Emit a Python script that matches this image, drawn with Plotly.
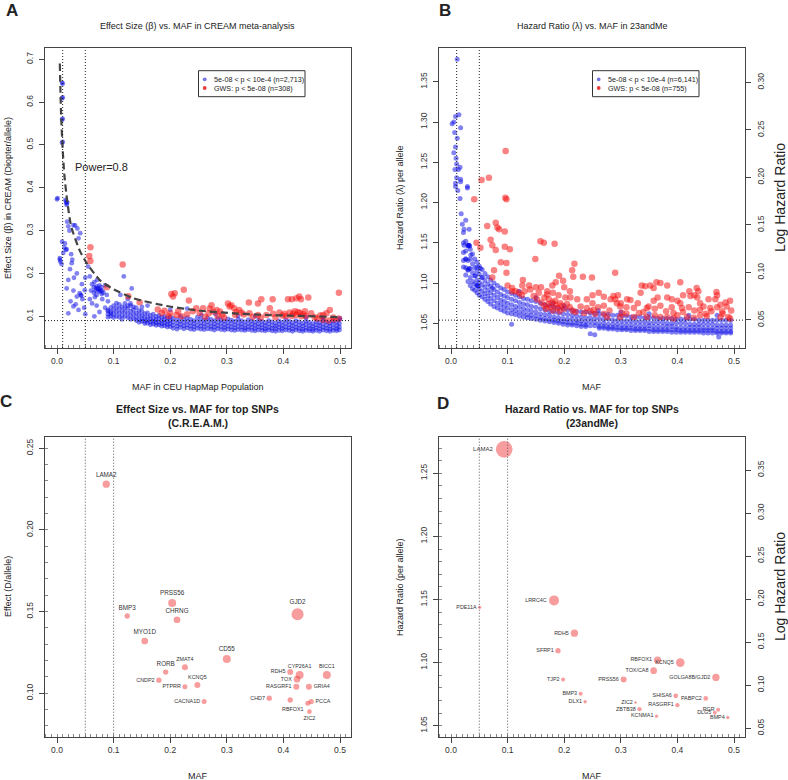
import plotly.graph_objects as go

W, H = 788, 780
FONT = "Liberation Sans, Arial, Helvetica, sans-serif"

# ---------------- DATA ----------------
# Panel A: CREAM, sub-GWS (blue) SNPs, scattered part
a_blue_pts = [
 (0.009,0.645),(0.010,0.643),(0.009,0.609),(0.010,0.611),(0.009,0.559),(0.010,0.561),(0.009,0.505),(0.010,0.507),
 (0.000,0.373),(0.001,0.376),(0.016,0.368),(0.017,0.364),(0.017,0.360),(0.015,0.372),(0.018,0.366),
 (0.018,0.321),(0.020,0.310),(0.029,0.313),(0.032,0.312),(0.036,0.305),(0.022,0.300),
 (0.009,0.274),(0.014,0.270),(0.016,0.255),(0.017,0.257),(0.013,0.260),(0.011,0.248),
 (0.005,0.236),(0.006,0.228),(0.005,0.232),(0.008,0.222),
 (0.026,0.224),(0.023,0.210),(0.038,0.282),(0.041,0.294),(0.025,0.245),(0.030,0.190),(0.035,0.200),(0.027,0.232),
 (0.020,0.185),(0.017,0.165),(0.029,0.160),(0.040,0.154),(0.042,0.150),(0.035,0.146),(0.049,0.161),(0.045,0.140),(0.043,0.148),
 (0.029,0.123),(0.020,0.107),(0.024,0.135),(0.048,0.120),(0.050,0.105),(0.044,0.175),(0.050,0.190),(0.038,0.115),(0.033,0.128),
 (0.055,0.216),(0.058,0.193),(0.062,0.175),(0.065,0.168),(0.068,0.160),(0.070,0.170),(0.072,0.165),(0.074,0.158),(0.076,0.162),
 (0.078,0.168),(0.080,0.160),(0.082,0.155),(0.070,0.150),(0.065,0.155),(0.060,0.160),(0.085,0.172),(0.066,0.180),(0.071,0.185),
 (0.070,0.125),(0.075,0.110),(0.062,0.130),(0.066,0.100),(0.080,0.140),(0.090,0.135),(0.085,0.120),(0.073,0.163),(0.077,0.158),
 (0.069,0.166),(0.079,0.152),(0.075,0.172),(0.067,0.145),(0.058,0.140),(0.088,0.150),
 (0.118,0.193),(0.132,0.165),(0.112,0.150),(0.125,0.140),(0.130,0.130),(0.160,0.125),(0.200,0.115),(0.230,0.118),
 (0.280,0.105),(0.350,0.100),(0.440,0.098),(0.500,0.095),(0.150,0.122),(0.255,0.103),(0.320,0.101),(0.470,0.097),
]
# Panel A: dense band of sub-GWS SNPs (MAF, effects at that MAF)
a_band_x = [0.090,0.095,0.100,0.105,0.110,0.115,0.120,0.125,0.130,0.135,0.140,0.145,0.150,0.155,0.160,0.165,
            0.170,0.175,0.180,0.185,0.190,0.195,0.200,0.205,0.212,0.218,0.224,0.230,0.236,0.242,0.248,0.254,
            0.260,0.266,0.272,0.278,0.284,0.290,0.296,0.302,0.308,0.314,0.320,0.326,0.332,0.338,0.344,0.350,
            0.356,0.362,0.368,0.374,0.380,0.386,0.392,0.398,0.404,0.410,0.416,0.422,0.428,0.434,0.440,0.446,
            0.452,0.458,0.464,0.470,0.476,0.482,0.488,0.494,0.499]
a_band_y = [
 [0.115,0.105,0.112,0.098],[0.120,0.110,0.100,0.106],[0.125,0.115,0.105,0.097],[0.120,0.110,0.100,0.131],
 [0.128,0.118,0.108,0.098],[0.122,0.112,0.102,0.093],[0.130,0.120,0.110,0.100],[0.118,0.107,0.097,0.125],
 [0.125,0.112,0.102,0.093],[0.115,0.105,0.095,0.122],[0.120,0.108,0.098,0.090],[0.113,0.103,0.093,0.086],
 [0.112,0.102,0.094,0.088],[0.106,0.097,0.089,0.083],[0.108,0.098,0.090,0.084],[0.102,0.094,0.087,0.080],
 [0.105,0.095,0.088,0.082],[0.100,0.092,0.085,0.079],[0.102,0.094,0.086,0.080],[0.098,0.090,0.083,0.077],
 [0.100,0.092,0.085,0.078],[0.096,0.088,0.081,0.075],[0.098,0.090,0.083,0.076],[0.095,0.087,0.079,0.072],
 [0.092,0.084,0.077,0.070],[0.100,0.089,0.081,0.074],[0.094,0.086,0.078,0.071],[0.097,0.088,0.080,0.073],
 [0.093,0.085,0.077,0.070],[0.090,0.083,0.076,0.069],[0.098,0.088,0.079,0.072],[0.094,0.085,0.077,0.070],
 [0.091,0.083,0.076,0.069],[0.096,0.087,0.079,0.071],[0.093,0.084,0.076,0.070],[0.090,0.082,0.075,0.068],
 [0.095,0.086,0.078,0.071],[0.092,0.084,0.076,0.069],[0.089,0.081,0.074,0.068],[0.094,0.085,0.077,0.070],
 [0.091,0.083,0.075,0.068],[0.088,0.080,0.073,0.067],[0.093,0.084,0.076,0.069],[0.090,0.082,0.075,0.068],
 [0.087,0.079,0.072,0.067],[0.092,0.083,0.075,0.069],[0.089,0.081,0.074,0.067],[0.086,0.079,0.072,0.066],
 [0.091,0.082,0.075,0.068],[0.088,0.080,0.073,0.067],[0.085,0.078,0.071,0.066],[0.090,0.082,0.074,0.068],
 [0.087,0.079,0.072,0.066],[0.084,0.077,0.071,0.065],[0.089,0.081,0.074,0.067],[0.086,0.078,0.072,0.066],
 [0.092,0.083,0.075,0.068],[0.088,0.080,0.073,0.067],[0.085,0.078,0.071,0.065],[0.090,0.082,0.074,0.068],
 [0.087,0.079,0.072,0.066],[0.084,0.077,0.070,0.065],[0.089,0.081,0.073,0.067],[0.086,0.078,0.071,0.066],
 [0.083,0.076,0.070,0.065],[0.088,0.080,0.073,0.067],[0.085,0.078,0.071,0.065],[0.091,0.082,0.074,0.068],
 [0.087,0.079,0.072,0.066],[0.084,0.077,0.070,0.065],[0.089,0.081,0.073,0.067],[0.086,0.078,0.071,0.066],
 [0.092,0.083,0.075,0.068],
]
# Panel A: genome-wide significant SNPs (red)
a_red_pts = [
 (0.059,0.261),(0.057,0.241),(0.059,0.229),(0.116,0.221),(0.088,0.168),(0.126,0.147),(0.146,0.133),
 (0.202,0.152),(0.208,0.154),(0.205,0.146),(0.224,0.162),(0.233,0.137),
 (0.190,0.113),(0.200,0.107),(0.211,0.103),(0.246,0.119),(0.258,0.119),(0.252,0.108),
 (0.273,0.126),(0.270,0.118),(0.276,0.111),(0.282,0.115),(0.288,0.111),(0.284,0.100),(0.292,0.104),
 (0.302,0.130),(0.308,0.126),(0.305,0.123),(0.313,0.119),(0.322,0.115),(0.326,0.109),(0.316,0.110),
 (0.339,0.132),(0.355,0.130),(0.361,0.140),(0.381,0.140),(0.376,0.119),(0.346,0.099),(0.355,0.103),
 (0.408,0.140),(0.415,0.140),(0.423,0.142),(0.428,0.146),(0.431,0.140),(0.444,0.144),
 (0.370,0.103),(0.382,0.106),(0.393,0.109),(0.402,0.106),(0.411,0.109),(0.417,0.106),(0.423,0.103),
 (0.429,0.108),(0.435,0.105),(0.440,0.101),(0.449,0.107),(0.405,0.100),(0.415,0.101),(0.420,0.112),
 (0.426,0.110),(0.432,0.100),(0.438,0.112),(0.398,0.102),(0.386,0.098),(0.360,0.097),
 (0.470,0.103),(0.476,0.107),(0.482,0.115),(0.488,0.097),(0.498,0.155),(0.498,0.095),(0.490,0.093),
 (0.460,0.095),(0.465,0.102),(0.455,0.098),(0.470,0.092),(0.480,0.090),
 (0.330,0.104),(0.340,0.107),(0.315,0.103),(0.295,0.097),(0.268,0.107),(0.262,0.099),(0.240,0.112),
 (0.230,0.105),(0.220,0.100),(0.214,0.112),(0.197,0.101),(0.185,0.108),(0.178,0.116),
]
# Panel A: power = 0.8 curve
power_x = [0.005, 0.007, 0.010, 0.013, 0.018, 0.025, 0.040, 0.053, 0.076, 0.100, 0.135, 0.194, 0.253, 0.312, 0.371, 0.429, 0.500]
power_y = [0.690, 0.580, 0.490, 0.430, 0.370, 0.310, 0.254, 0.223, 0.184, 0.163, 0.142, 0.124, 0.113, 0.107, 0.103, 0.101, 0.098]

# Panel B: 23andMe, sub-GWS (blue) scattered part
b_blue_pts = [
 (0.011,1.378),(0.005,1.300),(0.002,1.298),(0.008,1.307),(0.014,1.309),(0.017,1.293),(0.0065,1.287),(0.011,1.280),
 (0.008,1.269),(0.005,1.262),(0.009,1.255),(0.010,1.248),(0.007,1.241),(0.013,1.241),(0.016,1.244),(0.010,1.231),
 (0.017,1.226),(0.008,1.220),(0.029,1.218),(0.008,1.224),(0.017,1.229),(0.012,1.215),(0.016,1.205),(0.029,1.220),
 (0.018,1.186),(0.020,1.173),(0.023,1.167),(0.032,1.167),(0.026,1.178),(0.023,1.147),(0.032,1.147),(0.026,1.130),
 (0.035,1.135),(0.046,1.120),(0.052,1.118),(0.043,1.109),(0.055,1.107),(0.073,1.094),(0.107,1.049),(0.473,1.033),
 (0.120,1.090),(0.150,1.082),(0.200,1.072),(0.300,1.064),(0.350,1.062),(0.420,1.060),(0.470,1.060),(0.180,1.075),
 (0.260,1.066),(0.031,1.147),(0.033,1.146),(0.032,1.118),(0.030,1.117),(0.046,1.097),(0.048,1.096),
]
b_band_x = [0.022,0.026,0.030,0.034,0.038,0.042,0.046,0.050,0.055,0.060,0.065,0.070,0.076,0.082,0.088,0.094,
            0.100,0.107,0.114,0.121,0.128,0.135,0.142,0.150,0.158,0.166,0.174,0.182,0.190,0.198,0.206,0.214,
            0.222,0.230,0.238,0.246,0.254,0.262,0.270,0.278,0.286,0.294,0.302,0.310,0.318,0.326,0.334,0.342,
            0.350,0.358,0.366,0.374,0.382,0.390,0.398,0.406,0.414,0.422,0.430,0.438,0.446,0.454,0.462,0.470,
            0.478,0.486,0.494]
b_band_y = [
 [1.163,1.150,1.138,1.128,1.120],[1.152,1.140,1.130,1.119,1.110],[1.147,1.146,1.128,1.116,1.102],
 [1.142,1.130,1.118,1.107,1.097],[1.136,1.124,1.113,1.102,1.093],[1.130,1.119,1.109,1.099,1.091],
 [1.126,1.115,1.104,1.097,1.088],[1.121,1.111,1.101,1.093,1.085],[1.117,1.107,1.098,1.090,1.083],
 [1.112,1.103,1.095,1.087,1.080],[1.108,1.099,1.091,1.084,1.077],[1.104,1.096,1.088,1.081,1.074],
 [1.100,1.092,1.085,1.078,1.071],[1.097,1.089,1.082,1.075,1.069],[1.094,1.086,1.079,1.073,1.067],
 [1.092,1.084,1.077,1.071,1.065],[1.089,1.082,1.075,1.069,1.063],[1.087,1.080,1.073,1.067,1.062],
 [1.085,1.078,1.071,1.066,1.061],[1.083,1.076,1.070,1.064,1.059],[1.081,1.074,1.068,1.063,1.058],
 [1.080,1.073,1.067,1.061,1.057],[1.078,1.071,1.065,1.060,1.056],[1.077,1.070,1.064,1.059,1.055],
 [1.075,1.068,1.062,1.057,1.054],[1.073,1.067,1.061,1.056,1.053],[1.072,1.065,1.060,1.055,1.052],
 [1.070,1.064,1.058,1.054,1.051],[1.069,1.063,1.057,1.053,1.050],[1.068,1.062,1.056,1.052,1.049],
 [1.067,1.061,1.055,1.051,1.048],[1.066,1.060,1.055,1.050,1.048],[1.065,1.059,1.054,1.050,1.047],
 [1.064,1.058,1.053,1.049,1.046],[1.064,1.057,1.052,1.048,1.046],[1.063,1.057,1.052,1.047,1.037],
 [1.062,1.056,1.051,1.047,1.036],[1.062,1.056,1.050,1.046,1.044],[1.061,1.055,1.050,1.046,1.044],
 [1.061,1.055,1.049,1.045,1.043],[1.060,1.054,1.049,1.045,1.043],[1.060,1.054,1.049,1.045,1.042],
 [1.059,1.053,1.048,1.044,1.042],[1.059,1.053,1.048,1.044,1.042],[1.058,1.053,1.048,1.044,1.041],
 [1.058,1.052,1.047,1.043,1.041],[1.058,1.052,1.047,1.043,1.041],[1.057,1.052,1.047,1.043,1.041],
 [1.057,1.051,1.047,1.043,1.040],[1.057,1.051,1.046,1.042,1.040],[1.056,1.051,1.046,1.042,1.040],
 [1.056,1.051,1.046,1.042,1.040],[1.056,1.050,1.046,1.042,1.040],[1.056,1.050,1.046,1.042,1.039],
 [1.055,1.050,1.045,1.042,1.039],[1.055,1.050,1.045,1.041,1.039],[1.055,1.050,1.045,1.041,1.039],
 [1.055,1.049,1.045,1.041,1.039],[1.055,1.049,1.045,1.041,1.039],[1.054,1.049,1.045,1.041,1.039],
 [1.054,1.049,1.044,1.041,1.038],[1.054,1.049,1.044,1.041,1.038],[1.054,1.049,1.044,1.041,1.038],
 [1.054,1.048,1.044,1.040,1.038],[1.054,1.048,1.044,1.040,1.038],[1.054,1.048,1.044,1.040,1.038],
 [1.054,1.048,1.044,1.040,1.038],
]
b_red_pts = [
 (0.0965,1.264),(0.054,1.228),(0.067,1.231),(0.041,1.204),(0.098,1.204),(0.096,1.206),
 (0.064,1.171),(0.079,1.175),(0.082,1.169),(0.085,1.167),(0.095,1.164),
 (0.070,1.154),(0.073,1.147),(0.079,1.141),(0.095,1.145),(0.104,1.142),(0.045,1.150),(0.052,1.144),
 (0.158,1.152),(0.164,1.150),(0.183,1.149),(0.149,1.130),(0.088,1.126),(0.098,1.125),
 (0.076,1.116),(0.098,1.113),(0.073,1.107),
 (0.100,1.097),(0.108,1.094),(0.114,1.090),(0.126,1.097),(0.138,1.097),(0.127,1.104),
 (0.159,1.095),(0.179,1.097),(0.185,1.101),(0.198,1.103),(0.191,1.109),(0.216,1.108),(0.218,1.124),(0.214,1.116),
 (0.233,1.108),(0.249,1.107),(0.290,1.113),
 (0.146,1.084),(0.152,1.080),(0.170,1.086),(0.173,1.080),(0.179,1.076),(0.185,1.073),(0.193,1.075),
 (0.202,1.082),(0.211,1.082),(0.223,1.080),(0.229,1.071),(0.240,1.069),(0.252,1.067),
 (0.261,1.088),(0.270,1.083),(0.282,1.080),(0.287,1.084),(0.293,1.075),(0.299,1.071),(0.302,1.063),
 (0.311,1.080),(0.317,1.079),(0.323,1.069),(0.332,1.063),(0.337,1.097),(0.343,1.096),(0.352,1.097),
 (0.358,1.094),(0.363,1.101),(0.370,1.100),(0.382,1.097),
 (0.335,1.088),(0.346,1.069),(0.349,1.071),(0.358,1.078),(0.365,1.082),(0.382,1.082),(0.390,1.080),
 (0.405,1.101),(0.421,1.090),(0.434,1.094),(0.437,1.090),(0.423,1.084),(0.405,1.075),(0.408,1.069),(0.393,1.063),
 (0.440,1.067),(0.446,1.071),(0.458,1.069),(0.469,1.089),(0.467,1.080),(0.476,1.073),(0.479,1.065),
 (0.487,1.071),(0.493,1.078),(0.490,1.058),
 (0.299,1.058),(0.323,1.058),(0.346,1.058),(0.370,1.058),(0.382,1.058),(0.393,1.056),(0.417,1.058),
 (0.429,1.057),(0.452,1.059),(0.476,1.058),(0.493,1.056),
 (0.235,1.063),(0.246,1.065),(0.270,1.062),(0.276,1.058),
 (0.160,1.076),(0.165,1.072),(0.168,1.068),(0.172,1.074),(0.176,1.070),(0.180,1.066),(0.184,1.078),
 (0.188,1.069),(0.192,1.065),(0.196,1.072),(0.200,1.068),(0.205,1.074),(0.210,1.070),(0.215,1.066),(0.220,1.064),
 (0.120,1.088),(0.130,1.090),(0.140,1.092),(0.155,1.088),(0.108,1.090),
 (0.300,1.075),(0.310,1.070),(0.330,1.075),(0.340,1.064),(0.360,1.068),(0.370,1.072),(0.380,1.065),
 (0.390,1.070),(0.400,1.078),(0.410,1.064),(0.420,1.070),(0.430,1.066),(0.440,1.075),(0.450,1.062),
 (0.455,1.080),(0.460,1.065),(0.470,1.070),(0.480,1.062),(0.485,1.076),(0.495,1.066),(0.430,1.085),
 (0.435,1.082),(0.440,1.060),(0.410,1.085),(0.470,1.085),(0.400,1.060),(0.360,1.060),(0.310,1.062),
 (0.270,1.072),(0.260,1.070),(0.250,1.075),(0.240,1.080),(0.255,1.062),(0.280,1.066),(0.290,1.080),
 (0.295,1.085),(0.250,1.085),(0.210,1.090),(0.200,1.095),(0.190,1.085),(0.180,1.088),(0.170,1.090),
 (0.165,1.082),(0.150,1.095),(0.125,1.085),
]

# Panel C: top SNPs in C.R.E.A.M.
c_genes = ["LAMA2","BMP3","PRSS56","CHRNG","GJD2","MYO1D","CD55","ZMAT4","RORB","CNDP2","KCNQ5","PTPRR",
           "CACNA1D","RDH5","CYP26A1","TOX","BICC1","RASGRF1","GRIA4","CHD7","","RBFOX1","PCCA","ZIC2"]
c_maf = [0.087,0.124,0.2035,0.212,0.425,0.155,0.300,0.226,0.192,0.180,0.248,0.226,
         0.260,0.412,0.4286,0.424,0.4767,0.4228,0.445,0.375,0.412,0.443,0.449,0.446]
c_effect = [0.228,0.1473,0.1553,0.145,0.1484,0.132,0.121,0.116,0.113,0.108,0.105,0.104,
            0.0949,0.113,0.1112,0.1086,0.1112,0.104,0.104,0.097,0.0959,0.0939,0.0949,0.0887]
c_weight = [7.3,5.3,8.0,6.7,12.0,6.7,8.0,6.0,5.3,5.3,6.0,5.0,5.0,6.0,8.0,6.7,8.0,6.0,6.0,5.3,5.3,5.0,5.3,4.7]

# Panel D: top SNPs in 23andMe
d_genes = ["LAMA2","PDE11A","LRRC4C","RDH5","SFRP1","RBFOX1","KCNQ5","TOX/CA8","GOLGA8B/GJD2","TJP2","PRSS56",
           "BMP3","SHISA6","PABPC2","ZIC2","DLX1","RASGRF1","ZBTB38","RGR","DLG5","KCNMA1","BMP4"]
d_maf = [0.094,0.0506,0.182,0.218,0.189,0.365,0.405,0.358,0.468,0.198,0.305,
         0.229,0.397,0.450,0.326,0.237,0.400,0.333,0.472,0.466,0.363,0.489]
d_hr = [1.269,1.1438,1.1493,1.1233,1.1095,1.102,1.100,1.0936,1.0883,1.0867,1.0867,
        1.0753,1.0737,1.0716,1.0684,1.069,1.0663,1.0631,1.0626,1.0602,1.0576,1.0565]
d_weight = [16.7,3.3,10.0,7.3,5.3,7.3,8.7,6.7,7.3,4.0,6.0,4.0,4.7,4.7,2.7,3.3,4.3,4.3,4.0,4.0,3.3,3.3]

x_ticks = [0.0, 0.1, 0.2, 0.3, 0.4, 0.5]
a_y_ticks = [0.1, 0.2, 0.3, 0.4, 0.5, 0.6, 0.7]
b_y_ticks = [1.05, 1.10, 1.15, 1.20, 1.25, 1.30, 1.35]
b_y2_ticks = [0.05, 0.10, 0.15, 0.20, 0.25, 0.30]
c_y_ticks = [0.10, 0.15, 0.20, 0.25]
d_y_ticks = [1.05, 1.10, 1.15, 1.20, 1.25]
d_y2_ticks = [0.05, 0.10, 0.15, 0.20, 0.25, 0.30, 0.35]

a_vlines, a_hline = [0.01, 0.05], 0.09
b_vlines, b_hline = [0.01, 0.05], 1.054
cd_vlines = [0.05, 0.10]

# ---------------- STYLE / LAYOUT ----------------
BLUE = "rgba(5,5,230,0.5)"
RED = "rgba(245,15,15,0.52)"
PINK = "rgba(240,62,62,0.72)"
c_big = {"LAMA2","BMP3","PRSS56","CHRNG","GJD2","MYO1D","CD55","RORB"}
c_pos = {"CNDP2":"middle left","PTPRR":"middle left","CACNA1D":"middle left","RDH5":"middle left",
         "TOX":"middle left","RASGRF1":"middle left","CHD7":"middle left","":"middle left",
         "GRIA4":"middle right","PCCA":"middle right","RBFOX1":"bottom left","ZIC2":"bottom center"}

def flat(xs, rows):
    px, py = [], []
    for xv, row in zip(xs, rows):
        for yv in row:
            px.append(xv); py.append(yv)
    return px, py

def unzip(pts):
    return [p[0] for p in pts], [p[1] for p in pts]

def dx(p):  # pixel -> paper x
    return p / W

def dy(p):  # pixel -> paper y
    return 1 - p / H

fig = go.Figure()

# Panel A
abx, aby = flat(a_band_x, a_band_y)
ax1, ay1 = unzip(a_blue_pts)
fig.add_trace(go.Scatter(x=abx + ax1, y=aby + ay1, mode="markers", xaxis="x", yaxis="y",
                         marker=dict(size=4.8, color=BLUE, line=dict(width=0))))
arx, ary = unzip(a_red_pts)
fig.add_trace(go.Scatter(x=arx, y=ary, mode="markers", xaxis="x", yaxis="y",
                         marker=dict(size=6.5, color=RED, line=dict(width=0))))
fig.add_trace(go.Scatter(x=power_x, y=power_y, mode="lines", xaxis="x", yaxis="y",
                         line=dict(color="#444", width=2.2, dash="7px,4px", shape="spline", smoothing=0.6)))

# Panel B
bbx, bby = flat(b_band_x, b_band_y)
bx1, by1 = unzip(b_blue_pts)
fig.add_trace(go.Scatter(x=bbx + bx1, y=bby + by1, mode="markers", xaxis="x2", yaxis="y2",
                         marker=dict(size=5, color=BLUE, line=dict(width=0))))
brx, bry = unzip(b_red_pts)
fig.add_trace(go.Scatter(x=brx, y=bry, mode="markers", xaxis="x2", yaxis="y2",
                         marker=dict(size=6.5, color=RED, line=dict(width=0))))
fig.add_trace(go.Scatter(x=[], y=[], xaxis="x2", yaxis="y3", mode="markers"))

# Panel C
fig.add_trace(go.Scatter(x=c_maf, y=c_effect, mode="markers+text", xaxis="x3", yaxis="y4",
                         text=c_genes,
                         textposition=[c_pos.get(g, "top center") for g in c_genes],
                         textfont=dict(size=[6.3 if g in c_big else 5.4 for g in c_genes], color="#333", family=FONT),
                         marker=dict(size=c_weight, color=PINK, line=dict(width=0))))

# Panel D
fig.add_trace(go.Scatter(x=d_maf, y=d_hr, mode="markers+text", xaxis="x4", yaxis="y5",
                         text=d_genes, textposition="middle left",
                         textfont=dict(size=[6.0 if g == "LAMA2" else 5.4 for g in d_genes], color="#333", family=FONT),
                         marker=dict(size=d_weight, color=PINK, line=dict(width=0))))
fig.add_trace(go.Scatter(x=[], y=[], xaxis="x4", yaxis="y6", mode="markers"))

XR = [-0.0212, 0.5194]
base = dict(showline=True, linecolor="#444", linewidth=1, mirror=True, ticks="outside", ticklen=5,
            tickcolor="#444", tickwidth=1, showgrid=False, zeroline=False,
            tickfont=dict(size=8.5, color="#333", family=FONT))
minor_in = dict(ticks="inside", dtick=0.01, tick0=0, ticklen=3, tickcolor="#888", tickwidth=1)

def xax(dom, anchor):
    return dict(base, domain=[dx(dom[0]), dx(dom[1])], anchor=anchor, range=XR,
                tickvals=x_ticks, ticktext=[f"{v:.1f}" for v in x_ticks], minor=minor_in)

def yax(dom, anchor, rng, ticks, fmt, minor=None, side="left", overlay=None):
    d = dict(base, domain=[dy(dom[1]), dy(dom[0])], anchor=anchor, range=rng,
             tickvals=ticks, ticktext=[fmt.format(v) for v in ticks], tickangle=-90, side=side,
             ticklabelstandoff=3)
    if minor:
        d["minor"] = minor
    if overlay:
        d["overlaying"] = overlay
        d["mirror"] = False
        del d["domain"]
    return d

TOP = (48, 348)
BOT = (436.7, 736.7)
LEFT = (45, 351)
RIGHT = (439, 745)

fig.update_layout(
    width=W, height=H, margin=dict(l=0, r=0, t=0, b=0),
    paper_bgcolor="white", plot_bgcolor="white", showlegend=False,
    font=dict(family=FONT, color="#222"),
    xaxis=xax(LEFT, "y"),
    yaxis=yax(TOP, "x", [0.026, 0.7264], a_y_ticks, "{:.1f}"),
    xaxis2=xax(RIGHT, "y2"),
    yaxis2=yax(TOP, "x2", [1.0194, 1.392], b_y_ticks, "{:.2f}"),
    yaxis3=yax(TOP, "x2", [0.0205, 0.3363], b_y2_ticks, "{:.2f}", side="right", overlay="y2"),
    xaxis3=xax(LEFT, "y4"),
    yaxis4=yax(BOT, "x3", [0.0734, 0.2571], c_y_ticks, "{:.2f}", minor=minor_in),
    xaxis4=xax(RIGHT, "y5"),
    yaxis5=yax(BOT, "x4", [1.0413, 1.279], d_y_ticks, "{:.2f}", minor=minor_in),
    yaxis6=yax(BOT, "x4", [0.0402, 0.3887], d_y2_ticks, "{:.2f}", side="right", overlay="y5"),
)

shapes = []
def vline(xv, xr, yr, color="#222"):
    shapes.append(dict(type="line", xref=xr, yref=yr + " domain", x0=xv, x1=xv, y0=0, y1=1,
                       line=dict(color=color, width=1, dash="1px,2px")))
def hline(yv, xr, yr):
    shapes.append(dict(type="line", xref=xr + " domain", yref=yr, x0=0, x1=1, y0=yv, y1=yv,
                       line=dict(color="#222", width=1, dash="1px,2px")))
for v in a_vlines:
    vline(v, "x", "y")
hline(a_hline, "x", "y")
for v in b_vlines:
    vline(v, "x2", "y2")
hline(b_hline, "x2", "y2")
for v in cd_vlines:
    vline(v, "x3", "y4", "#555")
    vline(v, "x4", "y5", "#555")

ann = []
def text(xp, yp, s, size, bold=False, angle=0, xanchor="center", color="#222", xref="paper", yref="paper"):
    ann.append(dict(x=xp, y=yp, xref=xref, yref=yref, text=(f"<b>{s}</b>" if bold else s),
                    showarrow=False, font=dict(size=size, color=color, family=FONT),
                    textangle=angle, xanchor=xanchor, yanchor="middle"))

# legends (boxes drawn with shapes)
leg_a = ["5e-08 &lt; p &lt; 10e-4 (n=2,713)", "GWS: p &lt; 5e-08 (n=308)"]
leg_b = ["5e-08 &lt; p &lt; 10e-4 (n=6,141)", "GWS: p &lt; 5e-08 (n=755)"]
for ox, labels in ((0, leg_a), (394, leg_b)):
    shapes.append(dict(type="rect", xref="paper", yref="paper", x0=dx(ox + 198.5), x1=dx(ox + 305),
                       y0=dy(96.7), y1=dy(70.7), line=dict(color="#333", width=1), fillcolor="white"))
    for i, (col, lab) in enumerate(zip(["rgba(70,70,220,0.75)", "rgba(230,25,25,0.85)"], labels)):
        cy = 79.3 + 8.7 * i
        shapes.append(dict(type="circle", xref="paper", yref="paper", x0=dx(ox + 202.8), x1=dx(ox + 206.6),
                           y0=dy(cy + 1.9), y1=dy(cy - 1.9), line=dict(width=0), fillcolor=col))
        text(dx(ox + 211.5), dy(cy), lab, 7.2, xanchor="left")

text(dx(12), dy(11), "A", 17, bold=True)
text(dx(445), dy(11), "B", 17, bold=True)
text(dx(6), dy(402), "C", 17, bold=True)
text(dx(443), dy(403), "D", 17, bold=True)

text(dx(198), dy(26), "Effect Size (β) vs. MAF in CREAM meta-analysis", 9)
text(dx(592), dy(26), "Hazard Ratio (λ) vs. MAF in 23andMe", 9)
text(dx(198), dy(409), "Effect Size vs. MAF for top SNPs", 10.5, bold=True)
text(dx(198), dy(423.5), "(C.R.E.A.M.)", 10.5, bold=True)
text(dx(592), dy(409), "Hazard Ratio vs. MAF for top SNPs", 10.5, bold=True)
text(dx(592), dy(423.5), "(23andMe)", 10.5, bold=True)

text(dx(198), dy(386.5), "MAF in CEU HapMap Population", 9)
text(dx(592), dy(386.5), "MAF", 9)
text(dx(198), dy(775.5), "MAF", 9)
text(dx(592), dy(775.5), "MAF", 9)
text(dx(8), dy(198), "Effect Size (β) in CREAM (Diopter/allele)", 9, angle=-90)
text(dx(400), dy(198), "Hazard Ratio (λ) per allele", 9, angle=-90)
text(dx(780), dy(198), "Log Hazard Ratio", 14, angle=-90)
text(dx(8), dy(587), "Effect (D/allele)", 9, angle=-90)
text(dx(400), dy(587), "Hazard Ratio (per allele)", 9, angle=-90)
text(dx(780), dy(587), "Log Hazard Ratio", 14, angle=-90)
text(0.029, 0.449, "Power=0.8", 11, xanchor="left", xref="x", yref="y")

fig.update_layout(shapes=shapes, annotations=ann)
fig.write_html("out.html", config={"displayModeBar": False},
               post_script="document.body.style.margin='0';document.body.style.overflow='hidden';")
